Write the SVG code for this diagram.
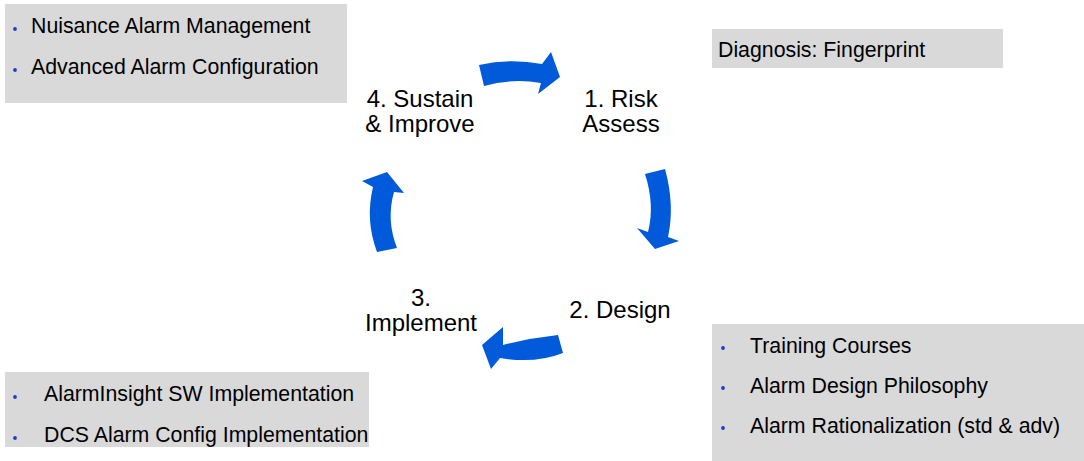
<svg xmlns="http://www.w3.org/2000/svg" width="1084" height="461" viewBox="0 0 1084 461">
<style>
.box{fill:#D9D9D9}
.t{font-family:"Liberation Sans",Arial,sans-serif;font-size:21.3px;fill:#000}
.s{font-family:"Liberation Sans",Arial,sans-serif;font-size:24px;fill:#000;text-anchor:middle}
.b{fill:#1A3FC0}
.arr{fill:#005AD9}
</style>
<rect width="1084" height="461" fill="#fff"/>
<g id="box-sustain">
<rect class="box" x="5" y="4" width="342" height="99"/>
<circle class="b" cx="15" cy="29" r="1.9"/>
<text class="t" x="31" y="33">Nuisance Alarm Management</text>
<circle class="b" cx="15" cy="70" r="1.9"/>
<text class="t" x="31" y="74">Advanced Alarm Configuration</text>
</g>
<g id="box-risk">
<rect class="box" x="712" y="29" width="291" height="39"/>
<text class="t" x="718" y="57">Diagnosis: Fingerprint</text>
</g>
<g id="box-design">
<rect class="box" x="712" y="324" width="372" height="137"/>
<circle class="b" cx="723" cy="348" r="1.9"/>
<text class="t" x="750" y="353">Training Courses</text>
<circle class="b" cx="723" cy="388" r="1.9"/>
<text class="t" x="750" y="393">Alarm Design Philosophy</text>
<circle class="b" cx="723" cy="428" r="1.9"/>
<text class="t" x="750" y="433">Alarm Rationalization (std &amp; adv)</text>
</g>
<g id="box-implement">
<rect class="box" x="5" y="372" width="364" height="75"/>
<circle class="b" cx="15" cy="397" r="1.9"/>
<text class="t" x="44" y="401">AlarmInsight SW Implementation</text>
<circle class="b" cx="15" cy="438" r="1.9"/>
<text class="t" x="44" y="442">DCS Alarm Config Implementation</text>
</g>
<g id="stage-1">
<text class="s" x="621" y="107">1. Risk</text>
<text class="s" x="621" y="132">Assess</text>
</g>
<g id="stage-2">
<text class="s" x="620" y="318">2. Design</text>
</g>
<g id="stage-3">
<text class="s" x="421" y="306">3.</text>
<text class="s" x="421" y="331">Implement</text>
</g>
<g id="stage-4">
<text class="s" x="420" y="107">4. Sustain</text>
<text class="s" x="420" y="132">&amp; Improve</text>
</g>
<g id="connectors">
<path class="arr" d="M479,65 Q510,58 542,64 L551,52 L560,77 L538,94 L541,83 Q512,78 484,86 Z"/>
<path class="arr" d="M645,174 L665,169 Q675,205 668,237 L679,241 L655,249 L637,228 L648,232 Q655,205 645,174 Z"/>
<path class="arr" d="M558,335 Q530,338 503,345 L503,327 L482,345 L491,369 L500,358 Q535,364 563,353 Z"/>
<path class="arr" d="M377,252 Q365,220 373,187 L362,181 L387,172 L404,193 L394,192 Q386,220 397,248 Z"/>
</g>
</svg>
